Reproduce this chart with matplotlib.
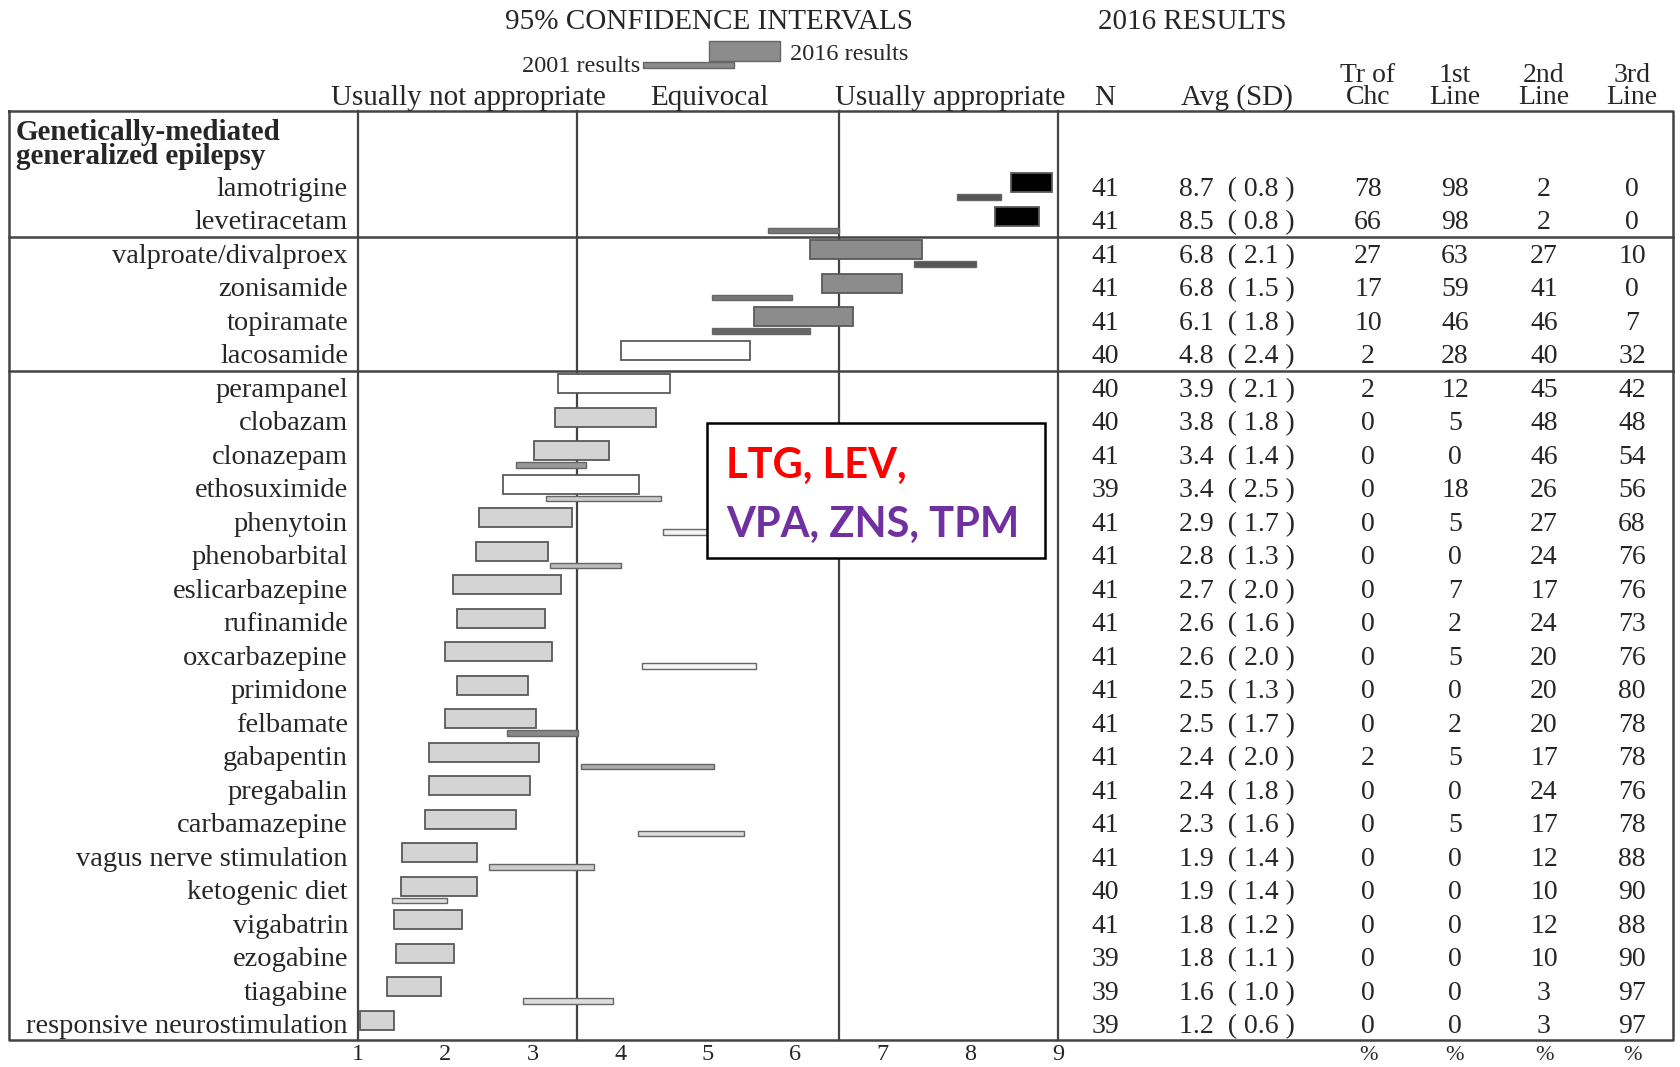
import matplotlib.pyplot as plt
from matplotlib.patches import Rectangle
from matplotlib.transforms import blended_transform_factory


# data
rows = ["lamotrigine", "levetiracetam", "valproate/divalproex", "zonisamide",
        "topiramate", "lacosamide", "perampanel", "clobazam", "clonazepam",
        "ethosuximide", "phenytoin", "phenobarbital", "eslicarbazepine",
        "rufinamide", "oxcarbazepine", "primidone", "felbamate", "gabapentin",
        "pregabalin", "carbamazepine", "vagus nerve stimulation",
        "ketogenic diet", "vigabatrin", "ezogabine", "tiagabine",
        "responsive neurostimulation"]

# 95% CI, 2016 results
ci16_lo = [8.46, 8.28, 6.17, 6.30, 5.53, 4.01, 3.29, 3.25, 3.01, 2.66, 2.38, 2.35, 2.09,
           2.13, 1.99, 2.13, 1.99, 1.81, 1.81, 1.77, 1.50, 1.49, 1.41, 1.43, 1.33, 1.02]
ci16_hi = [8.93, 8.78, 7.44, 7.22, 6.66, 5.48, 4.56, 4.40, 3.87, 4.21, 3.44, 3.17, 3.32,
           3.14, 3.22, 2.94, 3.03, 3.07, 2.97, 2.80, 2.36, 2.36, 2.19, 2.10, 1.95, 1.41]

# 95% CI, 2001 results (None = not rated in 2001)
ci01_lo = [7.84, 5.69, 7.35, 5.05, 5.05, None, None, None, 2.80, 3.15, 4.48, 3.19, None,
           None, 4.24, None, 2.70, 3.55, None, 4.20, 2.50, 1.39, None, None, 2.89, None]
ci01_hi = [8.35, 6.50, 8.06, 5.96, 6.16, None, None, None, 3.61, 4.46, 5.60, 4.01, None,
           None, 5.55, None, 3.51, 5.07, None, 5.41, 3.70, 2.02, None, None, 3.91, None]

n_raters = [41, 41, 41, 41, 41, 40, 40, 40, 41, 39, 41, 41, 41,
            41, 41, 41, 41, 41, 41, 41, 41, 40, 41, 39, 39, 39]
avg = [8.7, 8.5, 6.8, 6.8, 6.1, 4.8, 3.9, 3.8, 3.4, 3.4, 2.9, 2.8, 2.7,
       2.6, 2.6, 2.5, 2.5, 2.4, 2.4, 2.3, 1.9, 1.9, 1.8, 1.8, 1.6, 1.2]
sd = [0.8, 0.8, 2.1, 1.5, 1.8, 2.4, 2.1, 1.8, 1.4, 2.5, 1.7, 1.3, 2.0,
      1.6, 2.0, 1.3, 1.7, 2.0, 1.8, 1.6, 1.4, 1.4, 1.2, 1.1, 1.0, 0.6]
tr_chc = [78, 66, 27, 17, 10, 2, 2, 0, 0, 0, 0, 0, 0, 0, 0, 0, 0, 2, 0, 0, 0, 0, 0, 0, 0, 0]
line1 = [98, 98, 63, 59, 46, 28, 12, 5, 0, 18, 5, 0, 7, 2, 5, 0, 2, 5, 0, 5, 0, 0, 0, 0, 0, 0]
line2 = [2, 2, 27, 41, 46, 40, 45, 48, 46, 26, 27, 24, 17, 24, 20, 20, 20, 17, 24, 17,
         12, 10, 12, 10, 3, 3]
line3 = [0, 0, 10, 0, 7, 32, 42, 48, 54, 56, 68, 76, 76, 73, 76, 80, 78, 78, 76, 78,
         88, 90, 88, 90, 97, 97]
x_ticks = [1, 2, 3, 4, 5, 6, 7, 8, 9]

# styles
col16 = (["black"] * 2 + ["#8c8c8c"] * 3 + ["white"] * 2 + ["#d4d4d4"] * 2 + ["white"]
         + ["#d4d4d4"] * 16)
col01 = ["#555555", "#777777", "#555555", "#777777", "#666666", None, None, None,
         "#999999", "#cccccc", "#f2f2f2", "#bbbbbb", None, None, "#f5f5f5", None,
         "#888888", "#aaaaaa", None, "#dddddd", "#cccccc", "#dddddd", None, None,
         "#dddddd", None]

plt.rcParams['font.family'] = ['Liberation Serif', 'DejaVu Serif']
TXT = "#262626"
LINE = "#444444"
W, H = 1680, 1067
DY = 3  # text nudge in pixels

fig = plt.figure(figsize=(16.8, 10.67), dpi=100)

# background axes in pixel units for the table frame and texts
bg = fig.add_axes([0, 0, 1, 1])
bg.set_xlim(0, W)
bg.set_ylim(H, 0)
bg.axis("off")

top, bottom = 111, 1040
left_x, right_x = 9, 1673
ax = fig.add_axes([358 / W, 1 - bottom / H, 700 / W, (bottom - top) / H], zorder=1)
ax.patch.set_visible(False)
ax.set_xlim(1, 9)
ax.set_ylim(25.48, -2.25)
for s in ax.spines.values():
    s.set_visible(False)
ax.set_yticks([])
ax.set_xticks([])

for xv in [1, 3.5, 6.5, 9]:
    ax.axvline(xv, color=LINE, lw=1.6, clip_on=False)

# x tick labels, placed on the data scale, baseline kept inside the figure
ticktr = blended_transform_factory(ax.transData, bg.transData)
for t in x_ticks:
    ax.text(t, 1060, str(t), transform=ticktr, ha="center", va="baseline", fontsize=17.5,
            color=TXT, clip_on=False)

# 2016 and 2001 interval bars
ypos = list(range(len(rows)))
ax.barh([y - 0.11 for y in ypos], [h - l for l, h in zip(ci16_lo, ci16_hi)], left=ci16_lo,
        height=0.57, color=col16, edgecolor="#5a5a5a", linewidth=1.3, zorder=3)
for y, l, h, c in zip(ypos, ci01_lo, ci01_hi, col01):
    if l is None:
        continue
    ax.barh(y + 0.32, h - l, left=l, height=0.17, color=c, edgecolor="#666666",
            linewidth=1.0, zorder=2)

# table frame
bg.plot([left_x, right_x, right_x, left_x, left_x], [top, top, bottom, bottom, top],
        color=LINE, lw=1.8)
rowtr = blended_transform_factory(bg.transData, ax.transData)
for yy in [1.5, 5.5]:
    bg.plot([left_x, right_x], [yy, yy], color=LINE, lw=1.8, transform=rowtr)

# row labels and table values
col_x = [1105, 1237, 1368, 1455, 1544, 1632]
for i, name in enumerate(rows):
    bg.text(348, i + 0.09, name, transform=rowtr, ha="right", va="center", fontsize=20.5,
            color=TXT)
    vals = [str(n_raters[i]), f"{avg[i]:.1f}  ( {sd[i]:.1f} )", str(tr_chc[i]),
            str(line1[i]), str(line2[i]), str(line3[i])]
    for x, v in zip(col_x, vals):
        bg.text(x, i + 0.09, v, transform=rowtr, ha="center", va="center", fontsize=20,
                color=TXT)

bg.text(16, 129 + DY, "Genetically-mediated", ha="left", va="center", fontsize=21,
        fontweight="bold", color=TXT)
bg.text(16, 154 + DY, "generalized epilepsy", ha="left", va="center", fontsize=21,
        fontweight="bold", color=TXT)

# headers
bg.text(709, 19 + DY, "95% CONFIDENCE INTERVALS", ha="center", va="center", fontsize=21,
        color=TXT)
bg.text(1192, 19 + DY, "2016 RESULTS", ha="center", va="center", fontsize=21, color=TXT)
bg.add_patch(Rectangle((643, 62), 91, 6, facecolor="#8a8a8a", edgecolor="#666666", lw=1))
bg.add_patch(Rectangle((709, 41), 71, 20, facecolor="#8c8c8c", edgecolor="#666666", lw=1))
bg.text(640, 64 + DY, "2001 results", ha="right", va="center", fontsize=17.5, color=TXT)
bg.text(790, 51 + DY, "2016 results", ha="left", va="center", fontsize=17.5, color=TXT)

for x, t in [(468, "Usually not appropriate"), (709, "Equivocal"),
             (950, "Usually appropriate"), (1105, "N"), (1237, "Avg (SD)")]:
    bg.text(x, 95 + DY, t, ha="center", va="center", fontsize=21, color=TXT)
for x, t1, t2 in [(1368, "Tr of", "Chc"), (1455, "1st", "Line"),
                  (1544, "2nd", "Line"), (1632, "3rd", "Line")]:
    bg.text(x, 73 + DY, t1, ha="center", va="center", fontsize=20, color=TXT)
    bg.text(x, 95 + DY, t2, ha="center", va="center", fontsize=20, color=TXT)
for x in col_x[2:]:
    bg.text(x, 1060, "%", ha="center", va="baseline", fontsize=16, color=TXT)

# annotation box on top
top_ax = fig.add_axes([0, 0, 1, 1], zorder=2)
top_ax.patch.set_visible(False)
top_ax.set_xlim(0, W)
top_ax.set_ylim(H, 0)
top_ax.axis("off")
top_ax.add_patch(Rectangle((707, 423), 338, 135, facecolor="white", edgecolor="black", lw=1.8))
top_ax.text(726, 463 + DY, "LTG, LEV,", ha="left", va="center", fontsize=30,
            fontweight="bold", color="#ff0000", family="Lato")
top_ax.text(726, 522 + DY, "VPA, ZNS, TPM", ha="left", va="center", fontsize=30,
            fontweight="bold", color="#7030a0", family="Lato")

fig.savefig("out.png", dpi=100)
